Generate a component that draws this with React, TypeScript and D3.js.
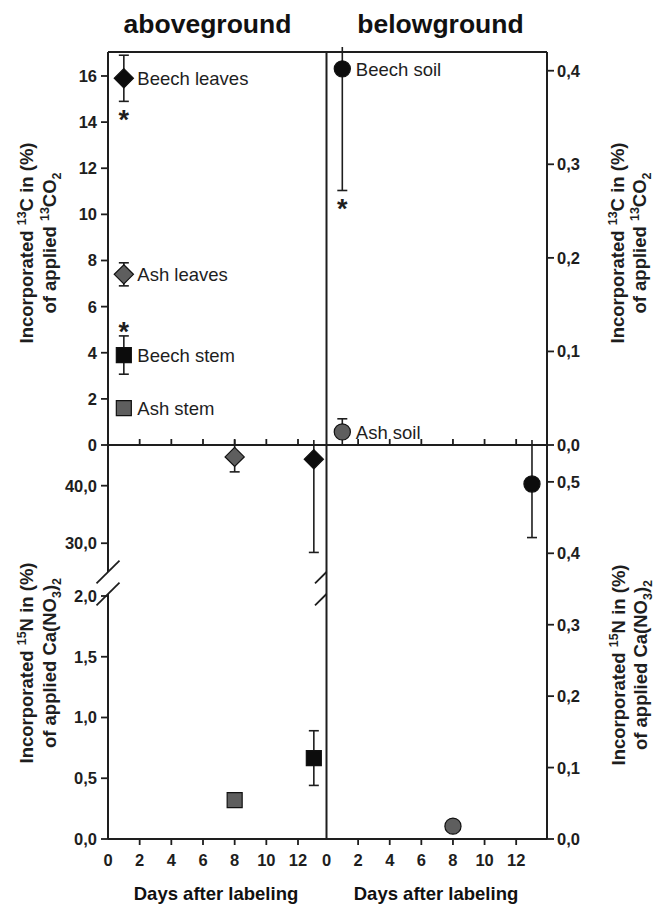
import React from "react";
import * as d3 from "d3";

// 13C, aboveground (day 1)
const aboveCLabels = ["Beech leaves", "Ash leaves", "Beech stem", "Ash stem"];
const aboveCDays = [1, 1, 1, 1];
const aboveCMeans = [15.9, 7.4, 3.9, 1.6];
const aboveCErrors = [1.0, 0.5, 0.83, 0];
const aboveCShapes = ["diamond", "diamond", "square", "square"];
const aboveCSpecies = ["beech", "ash", "beech", "ash"];
const aboveCStars = ["below", "", "above", ""];

// 13C, belowground (day 1)
const belowCLabels = ["Beech soil", "Ash soil"];
const belowCDays = [1, 1];
const belowCMeans = [0.402, 0.014];
const belowCErrors = [0.13, 0.014];
const belowCShapes = ["circle", "circle"];
const belowCSpecies = ["beech", "ash"];
const belowCStars = ["below", ""];

// 15N, aboveground
const aboveNDays = [8, 8, 13, 13];
const aboveNMeans = [45.0, 0.32, 44.6, 0.666];
const aboveNErrors = [2.6, 0, 16.2, 0.225];
const aboveNShapes = ["diamond", "square", "diamond", "square"];
const aboveNSpecies = ["ash", "ash", "beech", "beech"];

// 15N, belowground
const belowNDays = [13, 8];
const belowNMeans = [0.497, 0.018];
const belowNErrors = [0.075, 0];
const belowNShapes = ["circle", "circle"];
const belowNSpecies = ["beech", "ash"];

const dayTicks = [0, 2, 4, 6, 8, 10, 12];
const aboveCTicks = [0, 2, 4, 6, 8, 10, 12, 14, 16];
const belowCTicks = [0, 0.1, 0.2, 0.3, 0.4];
const aboveNTicks = [0, 0.5, 1, 1.5, 2, 30, 40];
const belowNTicks = [0, 0.1, 0.2, 0.3, 0.4, 0.5];

const L = 108;
const M = 326.5;
const R = 547;
const T = 52;
const MID = 445;
const B = 839;
const BREAK_HI = 572;
const BREAK_LO = 594;

const ink = "#1e1e1e";
const font = "'Liberation Sans', Arial, Helvetica, sans-serif";

const xLeft = d3.scaleLinear().domain([0, 13.8]).range([L, M]);
const xRight = d3.scaleLinear().domain([0, 13.95]).range([M, R]);
const yAboveC = d3.scaleLinear().domain([0, 17.04]).range([MID, T]);
const yBelowC = d3.scaleLinear().domain([0, 0.42]).range([MID, T]);
const yAboveN = d3
  .scaleLinear()
  .domain([0, 2.0164, 25, 47.07])
  .range([B, BREAK_LO, BREAK_HI, MID]);
const yBelowN = d3.scaleLinear().domain([0, 0.5516]).range([B, MID]);

const locale = d3.formatLocale({
  decimal: ",",
  thousands: ".",
  grouping: [3],
  currency: ["", ""],
});
const fmt1 = locale.format(".1f");
const fmt0 = locale.format("d");

const symbols: any = {
  diamond: d3.symbol().type(d3.symbolDiamond2).size(235),
  square: d3.symbol().type(d3.symbolSquare).size(225),
  circle: d3.symbol().type(d3.symbolCircle).size(205),
};
const fills: any = { beech: "#0c0c0c", ash: "#5e5e5e" };

function Series({ days, means, errors, shapes, species, x, y, labels, stars }: any) {
  const dom = y.domain();
  const d0 = dom[0];
  const d1 = dom[dom.length - 1];
  return (
    <g>
      {means.map((m: number, i: number) => {
        const cx = x(days[i]);
        const e = errors[i];
        if (!e) return null;
        const lo = Math.max(d0, m - e);
        const hi = Math.min(d1, m + e);
        const yLo = y(lo);
        const yHi = m + e > d1 ? y(d1) - 5 : y(hi);
        return (
          <g key={"e" + i} stroke={ink} strokeWidth={1.6}>
            <line x1={cx} x2={cx} y1={yLo} y2={yHi} />
            {m - e >= d0 && <line x1={cx - 5} x2={cx + 5} y1={yLo} y2={yLo} />}
            {m + e <= d1 && <line x1={cx - 5} x2={cx + 5} y1={yHi} y2={yHi} />}
          </g>
        );
      })}
      {means.map((m: number, i: number) => (
        <path
          key={"m" + i}
          d={symbols[shapes[i]]()}
          transform={`translate(${x(days[i])},${y(m)})`}
          fill={fills[species[i]]}
          stroke="#111"
          strokeWidth={1.2}
        />
      ))}
      {labels &&
        labels.map((t: string, i: number) => (
          <text
            key={"l" + i}
            x={x(days[i]) + 13.5}
            y={y(means[i]) + 7}
            fontSize={18.5}
            fill={ink}
          >
            {t}
          </text>
        ))}
      {stars &&
        stars.map((s: string, i: number) => {
          if (!s) return null;
          const cy =
            s === "below"
              ? y(means[i] - errors[i]) + 12
              : y(means[i] + errors[i]) - 10;
          return (
            <text
              key={"s" + i}
              x={x(days[i])}
              y={cy + 15.5}
              fontSize={27}
              fontWeight="bold"
              textAnchor="middle"
              fill={ink}
            >
              *
            </text>
          );
        })}
    </g>
  );
}

function YTicks({ ticks, y, side, format }: any) {
  const x0 = side === "left" ? L : R;
  const dir = side === "left" ? -1 : 1;
  return (
    <g>
      {ticks.map((t: number, i: number) => (
        <g key={i}>
          <line x1={x0} x2={x0 + dir * 7} y1={y(t)} y2={y(t)} stroke={ink} strokeWidth={1.8} />
          <text
            x={side === "left" ? 97 : 557}
            y={y(t)}
            dy="0.36em"
            textAnchor={side === "left" ? "end" : "start"}
            fontSize={16.5}
            fontWeight="bold"
            fill={ink}
          >
            {format(t)}
          </text>
        </g>
      ))}
    </g>
  );
}

function XTicks({ x, y0, dir, labels }: any) {
  return (
    <g>
      {dayTicks.map((t, i) => (
        <g key={i}>
          {t > 0 && (
            <line x1={x(t)} x2={x(t)} y1={y0} y2={y0 + dir * 6} stroke={ink} strokeWidth={1.8} />
          )}
          {labels && (
            <text x={x(t)} y={866} textAnchor="middle" fontSize={16.5} fontWeight="bold" fill={ink}>
              {t}
            </text>
          )}
        </g>
      ))}
    </g>
  );
}

function YTitle({ x1, x2, cy, iso, line2 }: any) {
  return (
    <g fontSize={18.5} fontWeight="bold" fill={ink}>
      <text transform={`translate(${x1},${cy}) rotate(-90)`} textAnchor="middle">
        Incorporated <tspan fontSize={12.5} dy={-7}>{iso[0]}</tspan>
        <tspan dy={7}>{iso[1]} in (%)</tspan>
      </text>
      <text transform={`translate(${x2},${cy}) rotate(-90)`} textAnchor="middle">
        {line2}
      </text>
    </g>
  );
}

export default function App() {
  const c2 = (
    <>
      of applied <tspan fontSize={12.5} dy={-7}>13</tspan>
      <tspan dy={7}>CO</tspan>
      <tspan fontSize={12.5} dy={5}>2</tspan>
    </>
  );
  const ca = (
    <>
      of applied Ca(NO<tspan fontSize={12.5} dy={5}>3</tspan>
      <tspan dy={-5}>)</tspan>
      <tspan fontSize={12.5} dy={5}>2</tspan>
    </>
  );
  const slash = (cx: number, cy: number, half: boolean) => (
    <line
      x1={cx - 11.5}
      y1={cy + 11.3}
      x2={half ? cx : cx + 11.5}
      y2={half ? cy : cy - 11.3}
      stroke={ink}
      strokeWidth={1.8}
    />
  );
  return (
    <svg
      width={654}
      height={905}
      style={{ position: "absolute", left: 0, top: 0, background: "#fff" }}
      fontFamily={font}
    >
      <rect width={654} height={905} fill="#fff" />
      <text x={207.5} y={33} textAnchor="middle" fontSize={26.5} fontWeight="bold" fill="#111">
        aboveground
      </text>
      <text x={440.5} y={33} textAnchor="middle" fontSize={26.5} fontWeight="bold" fill="#111">
        belowground
      </text>

      {/* frame */}
      <g stroke={ink} strokeWidth={2} fill="none">
        <line x1={L} x2={R} y1={T} y2={T} />
        <line x1={L} x2={R} y1={MID} y2={MID} />
        <line x1={L} x2={R} y1={B} y2={B} />
        <line x1={L} x2={L} y1={T} y2={BREAK_HI} />
        <line x1={L} x2={L} y1={BREAK_LO} y2={B} />
        <line x1={M} x2={M} y1={T} y2={B} />
        <line x1={R} x2={R} y1={T} y2={B} />
      </g>
      {slash(L, BREAK_HI, false)}
      {slash(L, BREAK_LO, false)}
      {slash(M, BREAK_HI, true)}
      {slash(M, BREAK_LO, true)}

      <YTicks ticks={aboveCTicks} y={yAboveC} side="left" format={fmt0} />
      <YTicks ticks={belowCTicks} y={yBelowC} side="right" format={fmt1} />
      <YTicks ticks={aboveNTicks} y={yAboveN} side="left" format={fmt1} />
      <YTicks ticks={belowNTicks} y={yBelowN} side="right" format={fmt1} />

      <XTicks x={xLeft} y0={MID} dir={-1} />
      <XTicks x={xRight} y0={MID} dir={-1} />
      <XTicks x={xLeft} y0={B} dir={1} labels />
      <XTicks x={xRight} y0={B} dir={1} labels />

      <Series
        days={aboveCDays}
        means={aboveCMeans}
        errors={aboveCErrors}
        shapes={aboveCShapes}
        species={aboveCSpecies}
        labels={aboveCLabels}
        stars={aboveCStars}
        x={xLeft}
        y={yAboveC}
      />
      <Series
        days={belowCDays}
        means={belowCMeans}
        errors={belowCErrors}
        shapes={belowCShapes}
        species={belowCSpecies}
        labels={belowCLabels}
        stars={belowCStars}
        x={xRight}
        y={yBelowC}
      />
      <Series
        days={aboveNDays}
        means={aboveNMeans}
        errors={aboveNErrors}
        shapes={aboveNShapes}
        species={aboveNSpecies}
        x={xLeft}
        y={yAboveN}
      />
      <Series
        days={belowNDays}
        means={belowNMeans}
        errors={belowNErrors}
        shapes={belowNShapes}
        species={belowNSpecies}
        x={xRight}
        y={yBelowN}
      />

      <YTitle x1={33} x2={56} cy={243} iso={["13", "C"]} line2={c2} />
      <YTitle x1={624} x2={646} cy={243} iso={["13", "C"]} line2={c2} />
      <YTitle x1={33} x2={56} cy={663} iso={["15", "N"]} line2={ca} />
      <YTitle x1={625} x2={647} cy={665} iso={["15", "N"]} line2={ca} />

      <text x={216} y={900} textAnchor="middle" fontSize={18.5} fontWeight="bold" fill="#111">
        Days after labeling
      </text>
      <text x={436} y={900} textAnchor="middle" fontSize={18.5} fontWeight="bold" fill="#111">
        Days after labeling
      </text>
    </svg>
  );
}
